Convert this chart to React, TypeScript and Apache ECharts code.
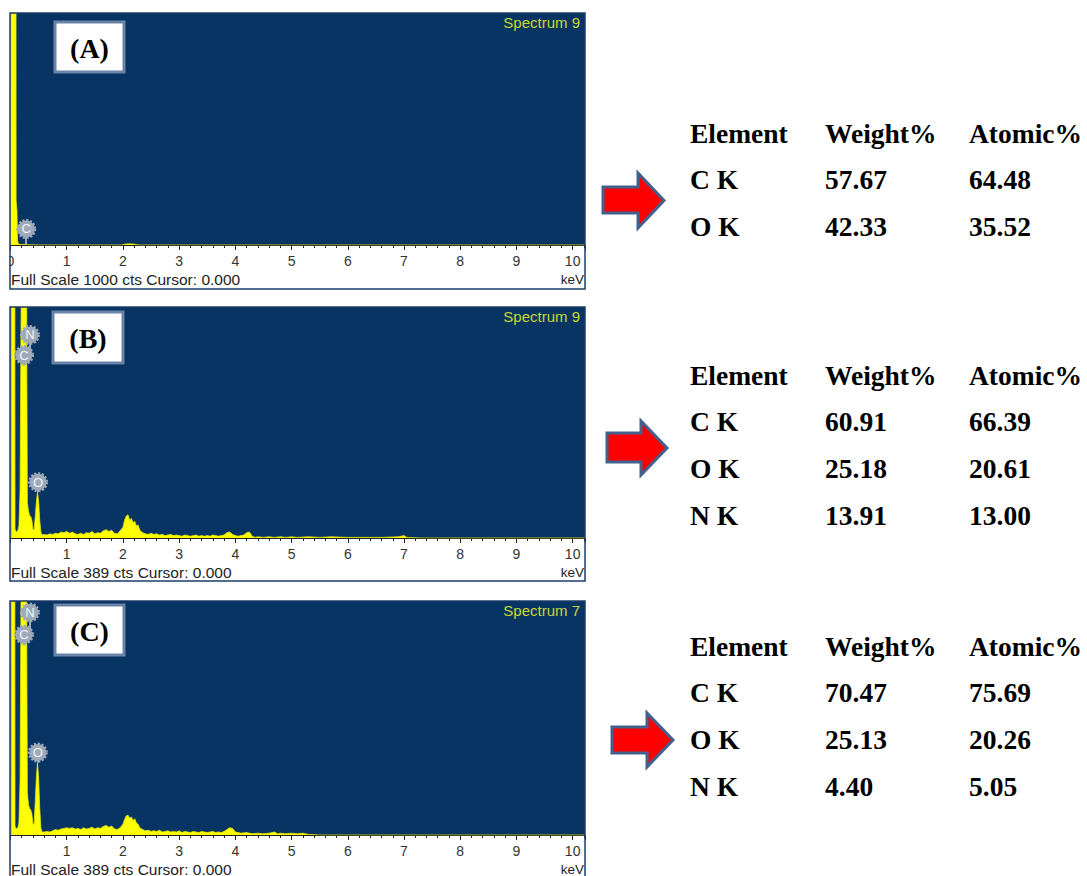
import React, { useEffect, useRef } from "react";
import * as echarts from "echarts";

// ---------- DATA ----------
const xMax = 10.22;
const xTickLabels = ["0", "1", "2", "3", "4", "5", "6", "7", "8", "9", "10"];

// EDS spectra: [energy keV, counts]
const spectrumA: number[][] = [
  [0, 0], [0.02, 2500], [0.095, 2500], [0.1, 190], [0.115, 150], [0.125, 20], [0.14, 4],
  [0.2, 2], [0.27, 3], [0.3, 1], [0.5, 0], [1.98, 0], [2.02, 3], [2.1, 5], [2.18, 4],
  [2.25, 1], [2.3, 0], [10.22, 0],
];
const spectrumB: number[][] = [
  [0, 0], [0.015, 0], [0.02, 1000], [0.075, 1000], [0.08, 15], [0.1, 10], [0.13, 12], [0.15, 20],
  [0.17, 80], [0.19, 400], [0.21, 1000], [0.28, 1000], [0.29, 300], [0.3, 60], [0.32, 45],
  [0.34, 38], [0.36, 36], [0.38, 30], [0.4, 14], [0.42, 14], [0.44, 35], [0.46, 60], [0.48, 77],
  [0.5, 62], [0.52, 30], [0.54, 10], [0.56, 5], [0.6, 6], [0.65, 5], [0.7, 7], [0.75, 6],
  [0.8, 8], [0.85, 7], [0.9, 10], [0.95, 9], [1.0, 11], [1.05, 8], [1.1, 10], [1.15, 7],
  [1.2, 6], [1.25, 8], [1.3, 6], [1.35, 9], [1.4, 8], [1.45, 11], [1.5, 7], [1.55, 9],
  [1.6, 8], [1.65, 12], [1.7, 14], [1.75, 11], [1.8, 13], [1.85, 8], [1.9, 7], [1.95, 12],
  [2.0, 18], [2.03, 30], [2.06, 37], [2.09, 39], [2.12, 30], [2.15, 33], [2.18, 26], [2.21, 28],
  [2.24, 20], [2.27, 22], [2.3, 13], [2.35, 9], [2.4, 7], [2.45, 6], [2.5, 8], [2.55, 6],
  [2.6, 7], [2.65, 5], [2.7, 6], [2.75, 4], [2.8, 5], [2.85, 6], [2.9, 4], [2.95, 5],
  [3.0, 4], [3.05, 3], [3.1, 5], [3.15, 4], [3.2, 3], [3.25, 4], [3.3, 5], [3.35, 3],
  [3.4, 4], [3.45, 3], [3.5, 4], [3.55, 3], [3.6, 5], [3.65, 4], [3.7, 3], [3.75, 4],
  [3.8, 5], [3.85, 9], [3.9, 10], [3.95, 6], [4.0, 4], [4.05, 3], [4.1, 4], [4.15, 5],
  [4.2, 9], [4.25, 10], [4.3, 3], [4.35, 1], [4.4, 2], [4.5, 1], [4.6, 2], [4.7, 1],
  [4.8, 2], [4.9, 1], [5.0, 2], [5.1, 1], [5.3, 2], [5.5, 1], [5.7, 2], [6.0, 1],
  [6.3, 1], [6.6, 1], [6.9, 2], [7.0, 4], [7.05, 1], [7.3, 0], [10.22, 0],
];
const spectrumC: number[][] = [
  [0, 0], [0.015, 0], [0.02, 1000], [0.075, 1000], [0.08, 15], [0.1, 10], [0.13, 12], [0.15, 20],
  [0.17, 90], [0.19, 450], [0.21, 1000], [0.28, 1000], [0.29, 300], [0.3, 70], [0.32, 50],
  [0.34, 44], [0.36, 42], [0.38, 35], [0.4, 18], [0.42, 18], [0.44, 55], [0.46, 95], [0.48, 120],
  [0.5, 95], [0.52, 45], [0.54, 12], [0.56, 5], [0.6, 5], [0.65, 6], [0.7, 5], [0.75, 7],
  [0.8, 9], [0.85, 8], [0.9, 10], [0.95, 11], [1.0, 12], [1.05, 11], [1.1, 12], [1.15, 10],
  [1.2, 11], [1.25, 9], [1.3, 12], [1.35, 10], [1.4, 11], [1.45, 13], [1.5, 10], [1.55, 12],
  [1.6, 11], [1.65, 14], [1.7, 16], [1.75, 13], [1.8, 15], [1.85, 10], [1.9, 9], [1.95, 12],
  [2.0, 18], [2.03, 26], [2.06, 32], [2.09, 33], [2.12, 28], [2.15, 30], [2.18, 24], [2.21, 27],
  [2.24, 20], [2.27, 18], [2.3, 12], [2.35, 9], [2.4, 7], [2.45, 8], [2.5, 6], [2.55, 7],
  [2.6, 6], [2.65, 8], [2.7, 5], [2.75, 6], [2.8, 7], [2.85, 5], [2.9, 6], [2.95, 5],
  [3.0, 7], [3.05, 4], [3.1, 6], [3.15, 5], [3.2, 4], [3.25, 6], [3.3, 5], [3.35, 4],
  [3.4, 6], [3.45, 5], [3.5, 4], [3.55, 5], [3.6, 6], [3.65, 4], [3.7, 5], [3.75, 4],
  [3.8, 6], [3.85, 9], [3.9, 12], [3.95, 11], [4.0, 5], [4.05, 4], [4.1, 3], [4.2, 4],
  [4.3, 2], [4.4, 3], [4.5, 2], [4.6, 3], [4.7, 5], [4.75, 2], [4.8, 3], [4.9, 2],
  [5.0, 3], [5.1, 2], [5.2, 3], [5.3, 1], [5.5, 0], [10.22, 0],
];

// full-scale counts
const fullScales = [1000, 389, 389];
const spectrumNames = ["Spectrum 9", "Spectrum 9", "Spectrum 7"];
const panelLabels = ["(A)", "(B)", "(C)"];

// element markers: [name, keV, marker counts, peak counts]
const markersA: [string, number, number, number][] = [["C", 0.28, 69, 3]];
const markersB: [string, number, number, number][] = [
  ["N", 0.345, 342, 308], ["C", 0.24, 308, 290], ["O", 0.49, 94, 77],
];
const markersC: [string, number, number, number][] = [
  ["N", 0.345, 370, 333], ["C", 0.24, 333, 315], ["O", 0.485, 137, 120],
];

// quantification tables
const tableHeader = ["Element", "Weight%", "Atomic%"];
const tableA = [["C K", "57.67", "64.48"], ["O K", "42.33", "35.52"]];
const tableB = [["C K", "60.91", "66.39"], ["O K", "25.18", "20.61"], ["N K", "13.91", "13.00"]];
const tableC = [["C K", "70.47", "75.69"], ["O K", "25.13", "20.26"], ["N K", "4.40", "5.05"]];

// ---------- LAYOUT ----------
const panels = [
  { top: 13, height: 232, frameH: 276, box: [55, 22, 69, 50], tableY: 133, arrow: [603, 638, 664, 187, 213, 173, 228, 200.5] },
  { top: 307, height: 231, frameH: 274, box: [53, 312, 70, 51], tableY: 375, arrow: [607, 641, 667, 433, 462, 421, 475, 448] },
  { top: 601, height: 234, frameH: 300, box: [55, 605, 69, 50], tableY: 646, arrow: [612, 647, 673, 727, 753, 713, 767, 740] },
];
const GRID_LEFT = 10.5;
const GRID_W = 574.5;
const tableCols = [690, 825, 969];
const rowGap = 46.7;

const BLUE = "#073463";
const MARK = "#9ea9b9";

export default function App() {
  const ref = useRef<HTMLDivElement>(null);
  useEffect(() => {
    if (!ref.current) return;
    const chart = echarts.init(ref.current, undefined, { renderer: "svg" });
    const spectra = [spectrumA, spectrumB, spectrumC];
    const markers = [markersA, markersB, markersC];
    const tables = [tableA, tableB, tableC];

    const grids = panels.map((p) => ({
      left: GRID_LEFT,
      top: p.top,
      width: GRID_W,
      height: p.height,
      show: true,
      backgroundColor: BLUE,
      borderWidth: 0,
      containLabel: false,
    }));
    const xAxes = panels.map((_, i) => ({
      type: "value",
      gridIndex: i,
      min: 0,
      max: xMax,
      interval: 1,
      axisLine: { show: true, lineStyle: { color: "#222", width: 1 } },
      axisTick: { show: true, length: 5, lineStyle: { color: "#222" } },
      minorTick: { show: true, splitNumber: 5, length: 3, lineStyle: { color: "#222" } },
      splitLine: { show: false },
      minorSplitLine: { show: false },
      axisLabel: {
        show: true,
        margin: 9,
        color: "#333",
        fontSize: 14,
        fontFamily: "Liberation Sans",
        showMaxLabel: false,
        formatter: (v: number) => {
          const idx = Math.round(v);
          if (Math.abs(v - idx) > 1e-6) return "";
          if (idx === 0 && i !== 0) return "";
          return xTickLabels[idx] ?? "";
        },
      },
    }));
    const yAxes = panels.map((_, i) => ({
      type: "value",
      gridIndex: i,
      min: 0,
      max: fullScales[i],
      show: false,
      splitLine: { show: false },
    }));
    const series = panels.map((_, i) => ({
      type: "line",
      xAxisIndex: i,
      yAxisIndex: i,
      data: spectra[i],
      symbol: "none",
      clip: true,
      lineStyle: { color: "#e6e600", width: 0.8 },
      areaStyle: { color: "#ffff00", opacity: 1 },
      z: 2,
      markLine: {
        silent: true,
        symbol: ["none", "none"],
        label: { show: false },
        lineStyle: { color: MARK, width: 2, type: "solid" },
        data: markers[i].map((m) => [{ coord: [m[1], m[2]] }, { coord: [m[1], m[3]] }]),
      },
      markPoint: {
        silent: true,
        symbol: "circle",
        symbolSize: 17,
        itemStyle: { color: MARK, borderColor: MARK, borderWidth: 3, borderType: [2, 1.6] },
        label: {
          show: true,
          formatter: "{b}",
          color: "#f2f4f7",
          fontSize: 13,
          fontFamily: "Liberation Sans",
        },
        data: markers[i].map((m) => ({ name: m[0], coord: [m[1], m[2]] })),
      },
    }));

    const graphics: any[] = [];
    panels.forEach((p, i) => {
      const axisY = p.top + p.height;
      // frame
      graphics.push({
        type: "rect",
        z: 100,
        shape: { x: 10, y: p.top, width: 575, height: p.frameH },
        style: { fill: "none", stroke: "#1d3c68", lineWidth: 1.5 },
        silent: true,
      });
      // label box
      graphics.push({
        type: "rect",
        z: 100,
        shape: { x: p.box[0], y: p.box[1], width: p.box[2], height: p.box[3] },
        style: { fill: "#ffffff", stroke: "#6a84a8", lineWidth: 3 },
      });
      graphics.push({
        type: "text",
        z: 101,
        x: p.box[0] + p.box[2] / 2,
        y: p.box[1] + p.box[3] / 2 + 1,
        style: {
          text: panelLabels[i],
          fill: "#000",
          font: "bold 28px 'Liberation Serif'",
          align: "center",
          verticalAlign: "middle",
          textAlign: "center",
          textVerticalAlign: "middle",
        },
      });
      // spectrum name
      graphics.push({
        type: "text",
        z: 101,
        x: 580,
        y: p.top + 9,
        style: {
          text: spectrumNames[i],
          fill: "#cbd82f",
          font: "15px 'Liberation Sans'",
          align: "right",
          verticalAlign: "middle",
          textAlign: "right",
          textVerticalAlign: "middle",
        },
      });
      // full scale text
      graphics.push({
        type: "text",
        z: 101,
        x: 11,
        y: axisY + 34,
        style: {
          text: `Full Scale ${fullScales[i]} cts Cursor: 0.000`,
          fill: "#222",
          font: "15.5px 'Liberation Sans'",
          align: "left",
          verticalAlign: "middle",
          textAlign: "left",
          textVerticalAlign: "middle",
        },
      });
      graphics.push({
        type: "text",
        z: 101,
        x: 584,
        y: axisY + 34,
        style: {
          text: "keV",
          fill: "#222",
          font: "13.5px 'Liberation Sans'",
          align: "right",
          verticalAlign: "middle",
          textAlign: "right",
          textVerticalAlign: "middle",
        },
      });
      // arrow
      const a = p.arrow;
      graphics.push({
        type: "polygon",
        z: 100,
        shape: {
          points: [
            [a[0], a[3]], [a[1], a[3]], [a[1], a[5]], [a[2], a[7]],
            [a[1], a[6]], [a[1], a[4]], [a[0], a[4]],
          ],
        },
        style: { fill: "#ff0000", stroke: "#41628f", lineWidth: 3 },
      });
      // table
      const rows = [tableHeader, ...tables[i]];
      rows.forEach((row, r) => {
        row.forEach((cell, c) => {
          graphics.push({
            type: "text",
            z: 101,
            x: tableCols[c],
            y: p.tableY + r * rowGap,
            style: {
              text: cell,
              fill: "#000",
              font: "bold 27.5px 'Liberation Serif'",
              align: "left",
              verticalAlign: "middle",
              textAlign: "left",
              textVerticalAlign: "middle",
            },
          });
        });
      });
    });
    // clip left half of the "0" label in panel A
    graphics.push({
      type: "rect",
      z: 99,
      shape: { x: 0, y: 250, width: 9.3, height: 22 },
      style: { fill: "#ffffff" },
    });

    chart.setOption({
      animation: false,
      backgroundColor: "#ffffff",
      grid: grids,
      xAxis: xAxes,
      yAxis: yAxes,
      series,
      graphic: { elements: graphics },
    });
    return () => chart.dispose();
  }, []);
  return (
    <div
      ref={ref}
      style={{ position: "absolute", left: 0, top: 0, width: 1087, height: 876 }}
    />
  );
}
